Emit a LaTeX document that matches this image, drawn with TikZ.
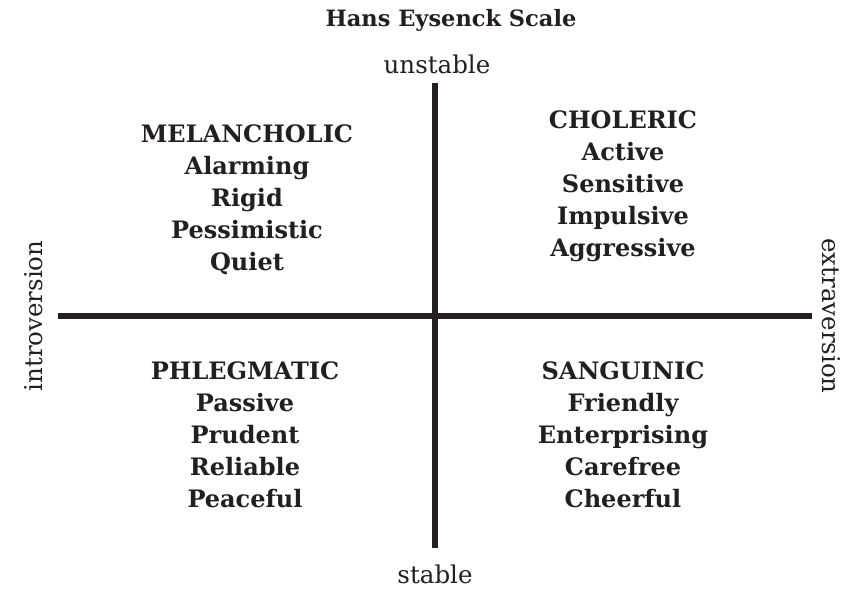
\documentclass[tikz,border=0pt]{standalone}
\usepackage{fontspec}
\setmainfont{DejaVu Serif}
\definecolor{ink}{HTML}{231F20}
\begin{document}
\begin{tikzpicture}[x=1pt,y=-1pt,
  axis/.style={draw=ink,line width=5.5pt},
  lbl/.style={text=ink,inner sep=0pt,font=\fontsize{24.5}{28}\selectfont},
  quad/.style={text=ink,inner sep=0pt,align=center,font=\fontsize{24}{32}\selectfont\bfseries},
  ttl/.style={text=ink,inner sep=0pt,font=\fontsize{22.5}{26}\selectfont\bfseries}]
\useasboundingbox (0,0) rectangle (849,589);
\node[ttl] (title) at (451,20) {Hans Eysenck Scale};
\coordinate (top) at (435,83);
\coordinate (bot) at (435,548);
\coordinate (lft) at (58,316);
\coordinate (rgt) at (812,316);
\draw[axis] (top) -- (bot);
\draw[axis] (lft) -- (rgt);
\node[lbl] (unst) at (437,64) {unstable};
\node[lbl] (stab) at (435,574) {stable};
\node[lbl,rotate=90] (intro) at (34,316) {introversion};
\node[lbl,rotate=-90] (extra) at (831,316) {extraversion};
\node[quad] (mel) at (247,200) {MELANCHOLIC\\Alarming\\Rigid\\Pessimistic\\Quiet};
\node[quad] (cho) at (623,186) {CHOLERIC\\Active\\Sensitive\\Impulsive\\Aggressive};
\node[quad] (phl) at (245,435) {PHLEGMATIC\\Passive\\Prudent\\Reliable\\Peaceful};
\node[quad] (san) at (623,435) {SANGUINIC\\Friendly\\Enterprising\\Carefree\\Cheerful};
\end{tikzpicture}
\end{document}
